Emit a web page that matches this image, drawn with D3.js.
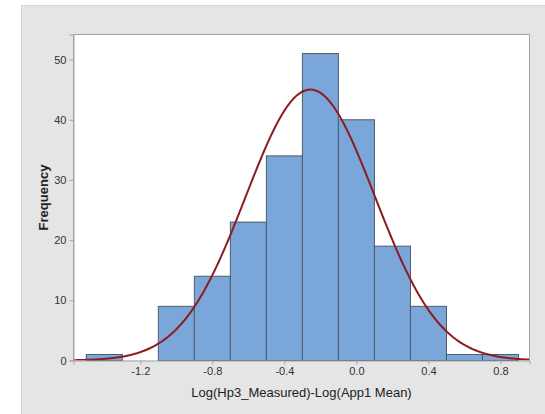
<!DOCTYPE html>
<html>
<head>
<meta charset="utf-8">
<script src="https://cdn.jsdelivr.net/npm/d3@7"></script>
<style>
  html, body { margin: 0; padding: 0; background: #ffffff; }
  svg { display: block; }
  text { font-family: "Liberation Sans", Arial, sans-serif; }
</style>
</head>
<body>
<svg id="chart" width="545" height="414"></svg>
<script>
// Histogram of log differences with a fitted normal curve
const binEdges = [-1.5, -1.3, -1.1, -0.9, -0.7, -0.5, -0.3, -0.1, 0.1, 0.3, 0.5, 0.7, 0.9];
const counts   = [1, 0, 9, 14, 23, 34, 51, 40, 19, 9, 1, 1];
const xTicks = [-1.2, -0.8, -0.4, 0.0, 0.4, 0.8];
const yTicks = [0, 10, 20, 30, 40, 50];
const fitMean = -0.256;
const fitSd = 0.358;
const xLabel = "Log(Hp3_Measured)-Log(App1 Mean)";
const yLabel = "Frequency";

const W = 545, H = 414;
const plot = { left: 73.5, top: 34.5, right: 529.5, bottom: 360.5 };

const svg = d3.select("#chart");

// outer panel
svg.append("rect").attr("x", 21).attr("y", 5).attr("width", W - 21).attr("height", H - 5)
  .attr("fill", "#e5e5e5");
svg.append("line").attr("x1", 21).attr("x2", W).attr("y1", 5.5).attr("y2", 5.5)
  .attr("stroke", "#d6d6d6");
svg.append("line").attr("x1", 21.5).attr("x2", 21.5).attr("y1", 5).attr("y2", H)
  .attr("stroke", "#d6d6d6");

// plot area
svg.append("rect")
  .attr("x", plot.left).attr("y", plot.top)
  .attr("width", plot.right - plot.left).attr("height", plot.bottom - plot.top)
  .attr("fill", "#ffffff");

const x = d3.scaleLinear().domain([-1.571, 0.961]).range([plot.left, plot.right]);
const y = d3.scaleLinear().domain([0, 54.17]).range([plot.bottom, plot.top]);

svg.append("clipPath").attr("id", "clip").append("rect")
  .attr("x", plot.left).attr("y", plot.top)
  .attr("width", plot.right - plot.left).attr("height", plot.bottom - plot.top);

// bars
const bins = counts.map((c, i) => ({ x0: binEdges[i], x1: binEdges[i + 1], n: c }));
svg.append("g").selectAll("rect").data(bins.filter(d => d.n > 0)).join("rect")
  .attr("x", d => x(d.x0))
  .attr("y", d => y(d.n))
  .attr("width", d => x(d.x1) - x(d.x0))
  .attr("height", d => y(0) - y(d.n))
  .attr("fill", "#7ba6da")
  .attr("stroke", "#4f5c6b")
  .attr("stroke-width", 1);

// fitted normal curve, scaled to counts
const total = d3.sum(counts);
const binWidth = binEdges[1] - binEdges[0];
const pdf = v => Math.exp(-0.5 * ((v - fitMean) / fitSd) ** 2) / (fitSd * Math.sqrt(2 * Math.PI));
const curvePts = d3.range(0, 401).map(i => {
  const v = x.domain()[0] + (x.domain()[1] - x.domain()[0]) * i / 400;
  return [v, total * binWidth * pdf(v)];
});
svg.append("path")
  .attr("clip-path", "url(#clip)")
  .attr("d", d3.line().x(d => x(d[0])).y(d => y(d[1])).curve(d3.curveBasis)(curvePts))
  .attr("fill", "none")
  .attr("stroke", "#8c1c1f")
  .attr("stroke-width", 2);

// frame
svg.append("path")
  .attr("d", `M${plot.left},${plot.bottom}V${plot.top}H${plot.right}V${plot.bottom}`)
  .attr("fill", "none").attr("stroke", "#a3a3a3").attr("stroke-width", 1);

// axes
const xAxis = d3.axisBottom(x).tickValues(xTicks).tickSize(4).tickPadding(3)
  .tickFormat(d => d.toFixed(1));
const gx = svg.append("g").attr("transform", `translate(0,${plot.bottom})`).call(xAxis);
const yAxis = d3.axisLeft(y).tickValues(yTicks).tickSize(4).tickPadding(3)
  .tickFormat(d => String(d));
const gy = svg.append("g").attr("transform", `translate(${plot.left},0)`).call(yAxis);

[gx, gy].forEach(g => {
  g.select(".domain").attr("stroke", "#a3a3a3");
  g.selectAll(".tick line").attr("stroke", "#a3a3a3");
  g.selectAll(".tick text").attr("fill", "#333333")
    .style("font-family", "'Liberation Sans Narrow', 'Liberation Sans', Arial, sans-serif")
    .style("font-size", "11px");
});

// axis titles
svg.append("text")
  .attr("x", (plot.left + plot.right) / 2).attr("y", 397)
  .attr("text-anchor", "middle")
  .attr("fill", "#222222")
  .style("font-size", "13px")
  .text(xLabel);

svg.append("text")
  .attr("transform", `translate(47.5,${(plot.top + plot.bottom) / 2}) rotate(-90)`)
  .attr("text-anchor", "middle")
  .attr("fill", "#222222")
  .style("font-size", "13px")
  .style("font-weight", "bold")
  .text(yLabel);
</script>
</body>
</html>
